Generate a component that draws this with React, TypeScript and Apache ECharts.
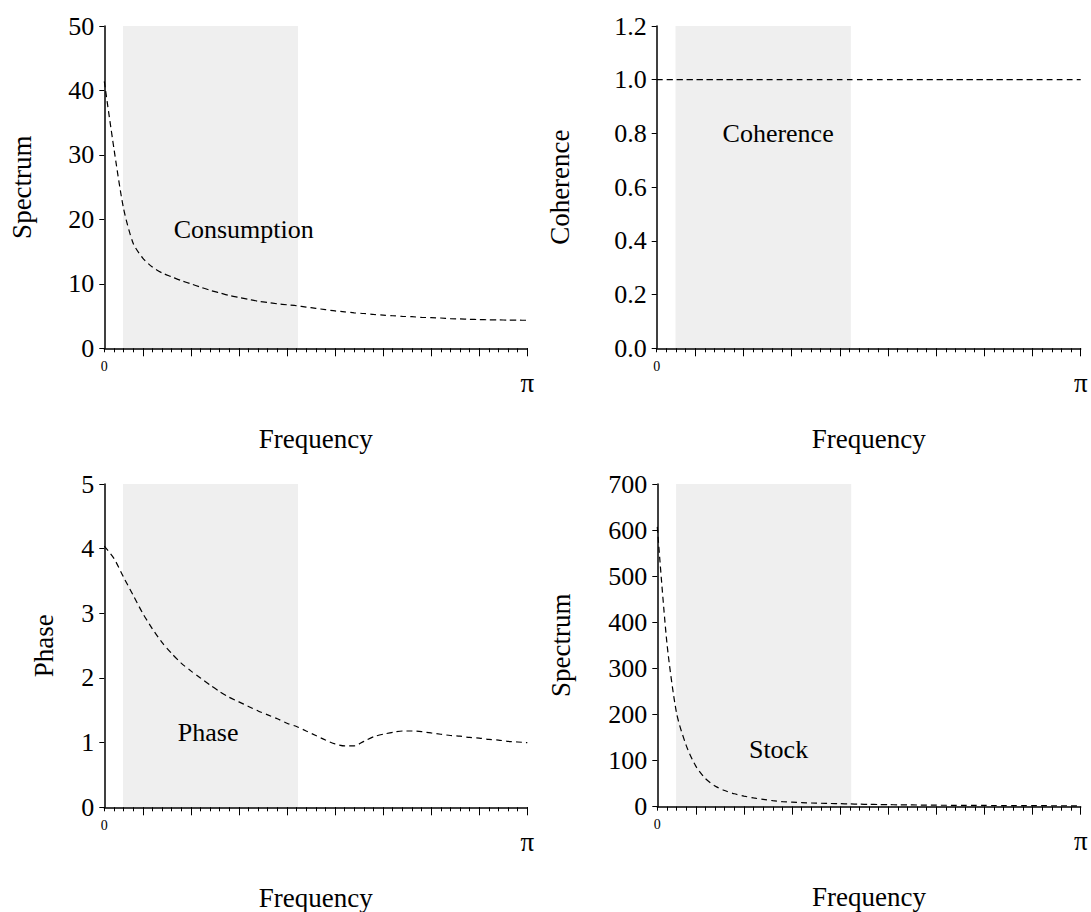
import React, { useEffect, useRef } from "react";
import * as echarts from "echarts";

// Frequency grid: 45 points from 0 to π (index units)
const FREQ_INDEX: number[] = Array.from({ length: 45 }, (_, i) => i);
const MINOR_TICKS: number[] = FREQ_INDEX;
const MAJOR_TICKS: number[] = [4, 9, 14, 19, 24, 29, 34, 39, 44];

// Shaded band (business-cycle frequencies), in frequency-index units
const BAND_FROM = 1.95;
const BAND_TO = 20.15;

const consumptionSpectrum: number[] = [
  41.4, 31.0, 21.7, 16.3, 14.0, 12.6, 11.7, 11.1, 10.5, 10.0,
  9.5, 9.0, 8.6, 8.2, 7.9, 7.6, 7.3, 7.1, 6.9, 6.75,
  6.6, 6.4, 6.2, 6.0, 5.8, 5.65, 5.5, 5.4, 5.25, 5.15,
  5.05, 4.95, 4.9, 4.8, 4.75, 4.7, 4.6, 4.55, 4.5, 4.45,
  4.42, 4.4, 4.38, 4.36, 4.35,
];

const coherence: number[] = [
  1, 1, 1, 1, 1, 1, 1, 1, 1, 1,
  1, 1, 1, 1, 1, 1, 1, 1, 1, 1,
  1, 1, 1, 1, 1, 1, 1, 1, 1, 1,
  1, 1, 1, 1, 1, 1, 1, 1, 1, 1,
  1, 1, 1, 1, 1,
];

const phase: number[] = [
  4.04, 3.85, 3.56, 3.28, 3.0, 2.76, 2.55, 2.38, 2.23, 2.11,
  2.0, 1.89, 1.79, 1.7, 1.63, 1.56, 1.49, 1.43, 1.37, 1.3,
  1.25, 1.18, 1.11, 1.04, 0.98, 0.95, 0.95, 1.02, 1.09, 1.13,
  1.16, 1.18, 1.18, 1.17, 1.15, 1.13, 1.11, 1.1, 1.08, 1.07,
  1.05, 1.04, 1.02, 1.01, 1.0,
];

const stockSpectrum: number[] = [
  607, 355, 203, 133, 88, 61, 45, 35, 28, 23,
  19, 16, 13, 11, 10, 9, 8, 7.5, 7, 6.5,
  6, 5.5, 5, 4.7, 4.4, 4.1, 3.9, 3.7, 3.5, 3.3,
  3.1, 3.0, 2.9, 2.8, 2.7, 2.6, 2.5, 2.4, 2.3, 2.2,
  2.2, 2.1, 2.1, 2.0, 2.0,
];

const PANEL_SERIES: number[][] = [consumptionSpectrum, coherence, phase, stockSpectrum];
const Y_NAMES: string[] = ["Spectrum", "Coherence", "Phase", "Spectrum"];
const Y_MAX: number[] = [50, 1.2, 5, 700];
const Y_INTERVAL: number[] = [10, 0.2, 1, 100];
const Y_DECIMALS: number[] = [0, 1, 0, 0];
const X_NAME = "Frequency";

const ANNOT_TEXT: string[] = ["Consumption", "Coherence", "Phase", "Stock"];
const ANNOT_X: number[] = [14.5, 12.6, 10.8, 12.6];
const ANNOT_Y: number[] = [18.5, 0.8, 1.15, 123];

const FONT = "Liberation Serif";

const GRIDS = [
  { left: 104.3, top: 26, width: 423, height: 322.3 },
  { left: 656.7, top: 26, width: 424, height: 322.3 },
  { left: 104.3, top: 484, width: 423, height: 323.3 },
  { left: 657.3, top: 484, width: 423.4, height: 322.7 },
];
const Y_NAME_GAP: number[] = [69, 83, 47, 83];

export default function App() {
  const ref = useRef<HTMLDivElement>(null);

  useEffect(() => {
    if (!ref.current) return;
    const chart = echarts.init(ref.current, null, { renderer: "svg" });

    const grid = GRIDS.map((g) => ({ ...g, containLabel: false, outerBoundsMode: "none" }));
    const xAxis: any[] = [];
    const yAxis: any[] = [];
    const series: any[] = [];

    GRIDS.forEach((_, k) => {
      // minor tick axis with line and "0" label
      xAxis.push({
        type: "value",
        gridIndex: k,
        position: "bottom",
        min: 0,
        max: 44,
        z: 10,
        splitLine: { show: false },
        axisLine: { show: true, onZero: false, lineStyle: { color: "#000", width: 1.5 } },
        axisTick: { show: true, length: 4, customValues: MINOR_TICKS, lineStyle: { color: "#000", width: 1 } },
        axisLabel: {
          show: true,
          customValues: [0],
          formatter: () => "0",
          fontFamily: FONT,
          fontSize: 14,
          color: "#000",
          margin: 11,
        },
        name: X_NAME,
        nameLocation: "middle",
        nameGap: 77,
        nameTextStyle: { fontFamily: FONT, fontSize: 27, color: "#000" },
      });
      // major tick axis with "π" label
      xAxis.push({
        type: "value",
        gridIndex: k,
        position: "bottom",
        min: 0,
        max: 44,
        z: 10,
        splitLine: { show: false },
        axisLine: { show: false, onZero: false },
        axisTick: { show: true, length: 8, customValues: MAJOR_TICKS, lineStyle: { color: "#000", width: 1 } },
        axisLabel: {
          show: true,
          customValues: [44],
          formatter: () => "π",
          fontFamily: FONT,
          fontSize: 27,
          color: "#000",
          margin: 21,
        },
      });
      yAxis.push({
        type: "value",
        gridIndex: k,
        min: 0,
        max: Y_MAX[k],
        interval: Y_INTERVAL[k],
        z: 10,
        splitLine: { show: false },
        axisLine: { show: true, onZero: false, lineStyle: { color: "#000", width: 1.5 } },
        axisTick: { show: true, length: 5, lineStyle: { color: "#000", width: 1 } },
        axisLabel: {
          fontFamily: FONT,
          fontSize: 26,
          color: "#000",
          margin: 10,
          formatter: (v: number) => v.toFixed(Y_DECIMALS[k]),
        },
        name: Y_NAMES[k],
        nameLocation: "middle",
        nameGap: Y_NAME_GAP[k],
        nameTextStyle: { fontFamily: FONT, fontSize: 27, color: "#000" },
      });

      // shaded band
      series.push({
        type: "line",
        xAxisIndex: 2 * k,
        yAxisIndex: k,
        data: [],
        z: 1,
        silent: true,
        markArea: {
          silent: true,
          itemStyle: { color: "#efefef" },
          data: [[{ xAxis: BAND_FROM }, { xAxis: BAND_TO }]],
        },
      });
      // dashed curve
      series.push({
        type: "line",
        xAxisIndex: 2 * k,
        yAxisIndex: k,
        z: 3,
        data: FREQ_INDEX.map((f, i) => [f, PANEL_SERIES[k][i]]),
        showSymbol: false,
        smooth: 0.25,
        lineStyle: { color: "#000", width: 1.2, type: [6, 4] },
      });
      // annotation
      series.push({
        type: "scatter",
        xAxisIndex: 2 * k,
        yAxisIndex: k,
        z: 4,
        symbolSize: 0,
        itemStyle: { opacity: 1 },
        data: [[ANNOT_X[k], ANNOT_Y[k]]],
        label: {
          show: true,
          position: "inside",
          formatter: () => ANNOT_TEXT[k],
          fontFamily: FONT,
          fontSize: 26,
          color: "#000",
          opacity: 1,
        },
      });
    });

    chart.setOption({
      animation: false,
      backgroundColor: "#fff",
      grid,
      xAxis,
      yAxis,
      series,
    });

    return () => chart.dispose();
  }, []);

  return (
    <div
      ref={ref}
      style={{ position: "fixed", left: 0, top: 0, width: 1091, height: 912 }}
    />
  );
}
